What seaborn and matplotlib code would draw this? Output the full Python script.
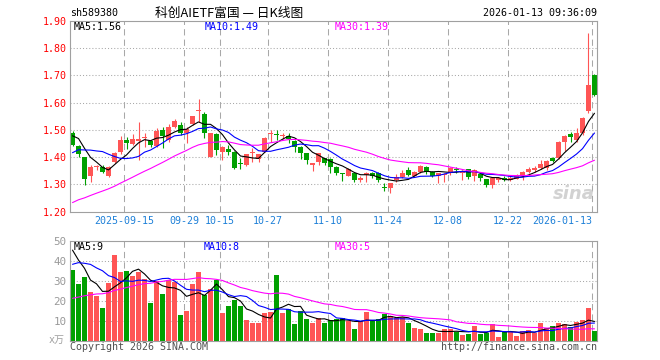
import numpy as np
import pandas as pd
import matplotlib
matplotlib.use("Agg")
import matplotlib.pyplot as plt
import seaborn as sns

# ---------------- data ----------------
open_ = [1.490,1.440,1.399,1.332,1.362,1.365,1.331,1.383,1.419,1.462,
         1.448,1.459,1.469,1.460,1.440,1.499,1.462,1.509,1.518,1.487,
         1.520,1.570,1.559,1.402,1.484,1.420,1.428,1.420,1.3785,1.371,
         1.415,1.393,1.420,1.483,1.482,1.478,1.477,1.460,1.438,1.414,
         1.371,1.383,1.395,1.393,1.365,1.340,1.331,1.343,1.316,1.335,
         1.343,1.341,1.287,1.286,1.316,1.326,1.353,1.332,1.347,1.363,
         1.347,1.332,1.333,1.341,1.354,1.343,1.355,1.329,1.338,1.319,
         1.298,1.316,1.325,1.316,1.320,1.329,1.347,1.353,1.359,1.359,
         1.398,1.395,1.456,1.483,1.462,1.490,1.568,1.702]
high_ = [1.494,1.443,1.402,1.370,1.372,1.370,1.368,1.420,1.478,1.475,
         1.483,1.527,1.487,1.462,1.505,1.509,1.523,1.541,1.529,1.511,
         1.551,1.612,1.566,1.490,1.487,1.440,1.444,1.422,1.395,1.412,
         1.432,1.413,1.475,1.501,1.499,1.489,1.487,1.461,1.439,1.415,
         1.380,1.416,1.398,1.395,1.367,1.343,1.359,1.345,1.329,1.347,
         1.345,1.347,1.304,1.306,1.338,1.353,1.363,1.350,1.372,1.368,
         1.348,1.342,1.340,1.363,1.363,1.353,1.357,1.355,1.341,1.320,
         1.327,1.328,1.332,1.335,1.337,1.349,1.365,1.369,1.389,1.389,
         1.400,1.459,1.480,1.493,1.505,1.548,1.855,1.705]
low_ = [1.440,1.400,1.296,1.310,1.352,1.342,1.327,1.378,1.412,1.430,
        1.444,1.389,1.438,1.436,1.438,1.432,1.456,1.505,1.481,1.453,
        1.518,1.529,1.471,1.400,1.408,1.389,1.408,1.357,1.357,1.368,
        1.383,1.383,1.418,1.456,1.462,1.465,1.453,1.420,1.392,1.374,
        1.349,1.371,1.371,1.343,1.335,1.313,1.329,1.310,1.310,1.310,
        1.322,1.310,1.274,1.268,1.310,1.322,1.329,1.328,1.341,1.338,
        1.326,1.304,1.310,1.334,1.343,1.316,1.321,1.314,1.314,1.290,
        1.288,1.310,1.313,1.313,1.318,1.316,1.341,1.347,1.357,1.353,
        1.381,1.393,1.422,1.454,1.456,1.481,1.563,1.623]
close_ = [1.444,1.410,1.320,1.365,1.369,1.347,1.363,1.416,1.462,1.450,
          1.466,1.466,1.475,1.443,1.496,1.478,1.509,1.533,1.487,1.503,
          1.549,1.572,1.489,1.487,1.426,1.436,1.420,1.361,1.376,1.410,
          1.417,1.411,1.469,1.485,1.480,1.482,1.468,1.438,1.416,1.389,
          1.377,1.414,1.377,1.365,1.343,1.337,1.355,1.316,1.325,1.343,
          1.329,1.316,1.285,1.304,1.326,1.343,1.333,1.347,1.369,1.347,
          1.332,1.341,1.338,1.359,1.352,1.349,1.326,1.353,1.322,1.298,
          1.325,1.325,1.316,1.322,1.329,1.347,1.357,1.361,1.374,1.386,
          1.386,1.456,1.477,1.475,1.490,1.545,1.666,1.627]
volume = [35.3,28.3,31.8,24.5,22.3,16.3,28.8,42.8,34.5,34.8,
          32.5,34.3,30.8,18.8,29.8,23.5,30.3,29.5,12.8,14.8,
          28.5,34.3,22.8,25.8,30.3,14.0,17.3,20.2,17.3,10.5,
          8.8,8.8,14.0,14.5,32.8,14.0,15.8,8.3,15.0,10.8,
          8.8,11.3,8.8,10.5,10.7,11.3,10.0,5.8,10.0,14.5,
          10.0,10.8,13.3,12.3,11.2,11.7,8.8,6.3,5.8,3.8,
          3.8,3.8,5.8,5.8,4.5,2.8,3.3,7.3,3.3,3.8,
          8.3,2.0,4.5,4.5,2.3,5.0,5.3,4.0,9.0,6.5,
          7.3,9.0,8.3,7.0,9.3,10.3,16.5,5.0]
# estimated sessions before the visible window (only feed the moving averages)
prior_close = [1.10,1.11,1.10,1.12,1.11,1.12,1.13,1.12,1.13,1.14,
               1.13,1.15,1.14,1.16,1.15,1.16,1.17,1.18,1.20,1.21,
               1.30,1.33,1.37,1.40,1.37,1.46,1.50,1.53,1.456]
prior_volume = [10,12,11,9,13,12,10,14,11,13,
                12,15,13,11,14,13,16,14,15,16,
                20,35,30,40,30.5,53.3,52.3,54.0,31.6]

tick_idx = [9, 19, 25, 33, 43, 53, 63, 73, 87]
tick_labels = ["2025-09-15", "09-29", "10-15", "10-27", "11-10",
               "11-24", "12-08", "12-22", "2026-01-13"]
price_ticks = [1.20, 1.30, 1.40, 1.50, 1.60, 1.70, 1.80, 1.90]
vol_ticks = [10, 20, 30, 40, 50]

title_code = "sh589380"
title_name = "科创AIETF富国 — 日K线图"
title_time = "2026-01-13 09:36:09"
price_ma_text = ["MA5:1.56", "MA10:1.49", "MA30:1.39"]
vol_ma_text = ["MA5:9", "MA10:8", "MA30:5"]

# ---------------- styling ----------------
sns.set_style("white")
plt.rcParams['font.family'] = ['DejaVu Sans Mono', 'Noto Sans CJK SC']
plt.rcParams['axes.unicode_minus'] = False

RED = '#FF5555'
GREEN = '#00A000'
MA_COLORS = ['#000000', '#0000FF', '#FF00FF']
FRAME = '#A0A0A0'
GRID = '#A8A8A8'
FS = 7.2

W, H = 660, 360
fig = plt.figure(figsize=(W / 100, H / 100), dpi=100)
fig.patch.set_facecolor('white')

def fx(px):
    return px / W

def fy(py):
    return 1 - py / H

L, R = 70, 597
T1, B1 = 20.7, 211.6
T2, B2 = 240.7, 340.7
ax = fig.add_axes([fx(L), fy(B1), (R - L) / W, (B1 - T1) / H])
axv = fig.add_axes([fx(L), fy(B2), (R - L) / W, (B2 - T2) / H])

o = np.array(open_); c = np.array(close_)
h = np.array(high_); l = np.array(low_)
v = np.array(volume)
n = len(c)
x = np.arange(n)
up = c >= o
cols = np.where(up, RED, GREEN)

full_close = pd.Series(prior_close + close_)
full_vol = pd.Series(prior_volume + volume)
k = len(prior_close)

xlim = (-2.5 / 6, n - 1 + 2.5 / 6)

for a in (ax, axv):
    a.set_xlim(*xlim)
    a.set_facecolor('white')
    for s in a.spines.values():
        s.set_color(FRAME)
        s.set_linewidth(0.8)
        s.set_visible(True)
    for t in tick_idx:
        a.axvline(t - 0.37, color=GRID, linewidth=0.75,
                  linestyle=(0, (6, 4)), zorder=0.5)

# ---- price panel ----
ax.set_ylim(1.20, 1.90)
for yv in price_ticks[1:-1]:
    ax.axhline(yv, color=GRID, linewidth=0.75, linestyle=(0, (1, 2)), zorder=0.5)
ax.vlines(x, l, h, colors=cols, linewidth=0.8, zorder=2)
body_bottom = np.minimum(o, c)
body_h = np.maximum(np.abs(c - o), 0.004)
ax.bar(x, body_h, bottom=body_bottom, width=0.82, color=cols, linewidth=0, zorder=2)
for w, col in zip([5, 10, 30], MA_COLORS):
    ma = full_close.rolling(w).mean().iloc[k:].to_numpy()
    sns.lineplot(x=x, y=ma, ax=ax, color=col, linewidth=0.8, legend=False, zorder=3)

ax.set_yticks(price_ticks)
ax.set_yticklabels([f"{p:.2f}" for p in price_ticks])
ax.tick_params(axis='y', length=0, pad=2.5, labelsize=FS, labelcolor='#FF0000')
ax.set_xticks(np.array(tick_idx) - 0.37)
ax.set_xticklabels(tick_labels)
ax.tick_params(axis='x', length=0, pad=3.5, labelsize=FS, labelcolor='#1E80D8')
ax.get_xticklabels()[-1].set_ha('right')
ax.set_xlabel(''); ax.set_ylabel('')

# watermark
ax.text(0.955, 0.045, "sina", transform=ax.transAxes, ha='center', va='bottom',
        fontsize=13, fontweight='bold', fontstyle='italic', color='#D2D2D2',
        family='DejaVu Sans', zorder=1)

# ---- volume panel ----
axv.set_ylim(0, 50)
for yv in vol_ticks[:-1]:
    axv.axhline(yv, color=GRID, linewidth=0.75, linestyle=(0, (1, 2)), zorder=0.5)
axv.bar(x, v, width=0.82, color=cols, linewidth=0, zorder=2)
for w, col in zip([5, 10, 30], MA_COLORS):
    ma = full_vol.rolling(w).mean().iloc[k:].to_numpy()
    sns.lineplot(x=x, y=ma, ax=axv, color=col, linewidth=0.8, legend=False, zorder=3)
axv.set_yticks(vol_ticks)
axv.set_yticklabels([str(t) for t in vol_ticks])
axv.tick_params(axis='y', length=0, pad=2.5, labelsize=FS + 0.6, labelcolor='#999999')
axv.set_xticks([])
axv.set_xlabel(''); axv.set_ylabel('')

# ---------------- texts ----------------
fig.text(fx(70), fy(13), title_code, fontsize=FS, ha='left', va='center', color='#000000')
fig.text(fx(229), fy(13), title_name, fontsize=9.2, ha='center', va='center',
         color='#000000', family=['Noto Sans CJK SC', 'DejaVu Sans'])
fig.text(fx(597), fy(13), title_time, fontsize=FS, ha='right', va='center', color='#000000')

for xp, txt, col in zip([74, 205, 335], price_ma_text, MA_COLORS):
    fig.text(fx(xp), fy(27.5), txt, fontsize=FS, ha='left', va='center', color=col)
for xp, txt, col in zip([74, 204, 335], vol_ma_text, MA_COLORS):
    fig.text(fx(xp), fy(247), txt, fontsize=FS, ha='left', va='center', color=col)

fig.text(fx(49), fy(340), "x万", fontsize=FS, ha='left', va='center', color='#A0A0A0')
fig.text(fx(70), fy(347), "Copyright 2026 SINA.COM", fontsize=FS, ha='left',
         va='center', color='#505050')
fig.text(fx(597), fy(347), "http://finance.sina.com.cn", fontsize=FS, ha='right',
         va='center', color='#505050')

fig.savefig("out.png", dpi=100, facecolor='white')
